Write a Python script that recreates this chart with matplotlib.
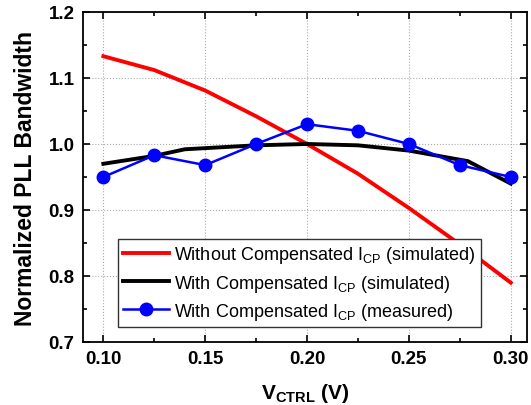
import matplotlib
matplotlib.use("Agg")
from matplotlib import pyplot as plt
from matplotlib.ticker import MultipleLocator

plt.rcParams['font.family'] = ['Liberation Sans', 'DejaVu Sans']

red_x = [0.10, 0.125, 0.15, 0.175, 0.20, 0.225, 0.25, 0.275, 0.30]
red_y = [1.133, 1.112, 1.081, 1.042, 1.000, 0.955, 0.903, 0.848, 0.790]

black_x = [0.10, 0.125, 0.14, 0.175, 0.20, 0.225, 0.25, 0.279, 0.30]
black_y = [0.970, 0.982, 0.992, 0.998, 1.000, 0.998, 0.990, 0.974, 0.940]

blue_x = [0.10, 0.125, 0.15, 0.175, 0.20, 0.225, 0.25, 0.275, 0.30]
blue_y = [0.950, 0.983, 0.968, 1.000, 1.030, 1.020, 1.000, 0.968, 0.950]

fig = plt.figure(figsize=(5.31, 4.06), dpi=100)
ax = fig.add_axes([83/531, 1 - 343/406, 444/531, 330/406])

ax.plot(red_x, red_y, color='#ff0000', lw=2.8,
        label='Without Compensated I$_{\\mathregular{CP}}$ (simulated)')
ax.plot(black_x, black_y, color='black', lw=2.8,
        label='With Compensated I$_{\\mathregular{CP}}$ (simulated)')
ax.plot(blue_x, blue_y, color='#0000ff', lw=1.8, marker='o', ms=9,
        label='With Compensated I$_{\\mathregular{CP}}$ (measured)')

ax.set_xlim(0.09, 0.308)
ax.set_ylim(0.7, 1.2)
ax.xaxis.set_major_locator(MultipleLocator(0.05))
ax.xaxis.set_minor_locator(MultipleLocator(0.025))
ax.yaxis.set_major_locator(MultipleLocator(0.1))
ax.yaxis.set_minor_locator(MultipleLocator(0.05))
ax.xaxis.set_major_formatter(plt.FormatStrFormatter('%.2f'))
ax.yaxis.set_major_formatter(plt.FormatStrFormatter('%.1f'))
ax.grid(True, which='major', color='#aaaaaa', ls=':', lw=0.8)
ax.tick_params(which='both', direction='in', top=True, right=True, width=1.2)
ax.tick_params(which='major', length=5, labelsize=13.5, pad=6)
ax.tick_params(which='minor', length=3)
for lbl in ax.get_xticklabels() + ax.get_yticklabels():
    lbl.set_fontweight('bold')
for s in ax.spines.values():
    s.set_linewidth(1.3)

ax.set_xlabel('V$_{\\mathregular{CTRL}}$ (V)', fontsize=15, fontweight='bold', labelpad=10)
ax.set_ylabel('Normalized PLL Bandwidth', fontsize=16.5, fontweight='bold', labelpad=8)

leg = ax.legend(loc='lower left', bbox_to_anchor=(0.079, 0.045), fontsize=13,
                fancybox=False, framealpha=1, edgecolor='#333333',
                handlelength=2.5, borderpad=0.3, labelspacing=0.4,
                handletextpad=0.3, borderaxespad=0)
leg.get_frame().set_linewidth(1.0)

fig.savefig('out.png', dpi=100)
